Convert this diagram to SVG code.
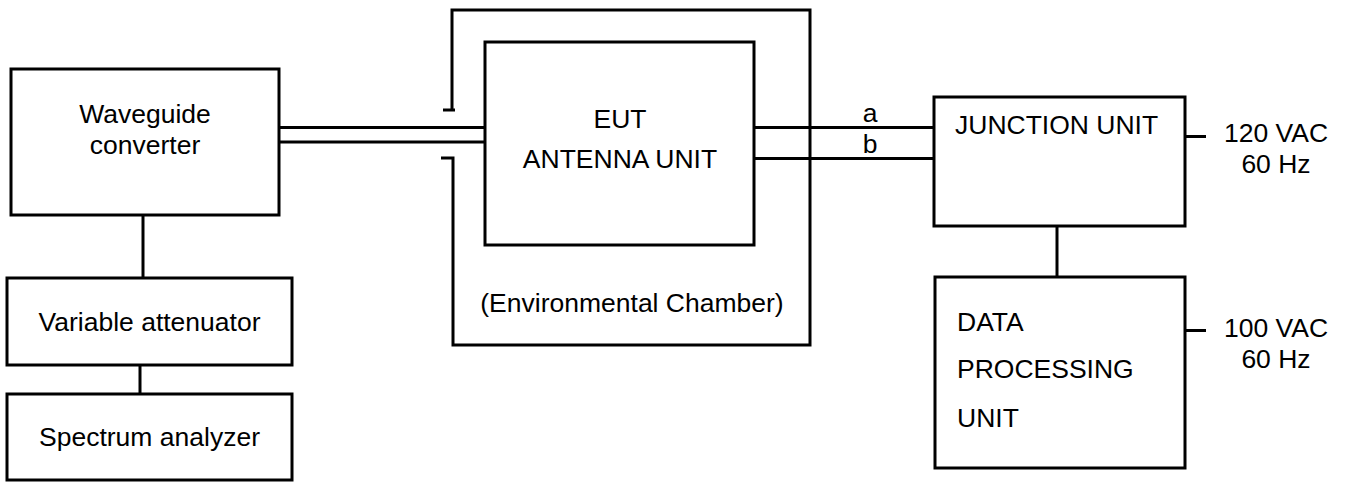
<svg xmlns="http://www.w3.org/2000/svg" width="1348" height="482" viewBox="0 0 1348 482">
<style>
.box{fill:none;stroke:#000;stroke-width:3}
.ln{fill:none;stroke:#000;stroke-width:3}
text{font-family:"Liberation Sans",Arial,sans-serif;font-size:26.5px;fill:#000}
.c{text-anchor:middle}
</style>
<rect width="1348" height="482" fill="#fff"/>
<g id="connectors">
<line class="ln" x1="279" y1="127.5" x2="485" y2="127.5"/>
<line class="ln" x1="279" y1="142" x2="485" y2="142"/>
<line class="ln" x1="143" y1="215" x2="143" y2="278"/>
<line class="ln" x1="140" y1="365" x2="140" y2="394"/>
<line class="ln" x1="754" y1="127.5" x2="934" y2="127.5"/>
<line class="ln" x1="754" y1="158.5" x2="934" y2="158.5"/>
<line class="ln" x1="1057" y1="226" x2="1057" y2="277"/>
<line class="ln" x1="1185" y1="136.5" x2="1206" y2="136.5"/>
<line class="ln" x1="1185" y1="330.5" x2="1206" y2="330.5"/>
<text class="c" x="870" y="122">a</text>
<text class="c" x="870" y="153">b</text>
</g>
<g id="chamber">
<path class="ln" d="M452,110 V10 H810 V345 H453 V158 H441"/>
<line class="ln" x1="443" y1="110" x2="455" y2="110"/>
<text class="c" x="632" y="312">(Environmental Chamber)</text>
</g>
<g id="waveguide">
<rect class="box" x="11" y="69" width="268" height="146"/>
<text class="c" x="145" y="123">Waveguide</text>
<text class="c" x="145" y="154">converter</text>
</g>
<g id="attenuator">
<rect class="box" x="7" y="278" width="285" height="87"/>
<text class="c" x="149.5" y="331">Variable attenuator</text>
</g>
<g id="spectrum">
<rect class="box" x="7" y="394" width="285" height="86"/>
<text class="c" x="149.5" y="446">Spectrum analyzer</text>
</g>
<g id="eut">
<rect class="box" x="485" y="42" width="269" height="203"/>
<text class="c" x="620" y="128">EUT</text>
<text class="c" x="620" y="168">ANTENNA UNIT</text>
</g>
<g id="junction">
<rect class="box" x="934" y="97" width="251" height="129"/>
<text x="955" y="134">JUNCTION UNIT</text>
</g>
<g id="dataproc">
<rect class="box" x="935" y="277" width="250" height="191"/>
<text x="957" y="331">DATA</text>
<text x="957" y="378">PROCESSING</text>
<text x="957" y="427">UNIT</text>
</g>
<g id="power1">
<text class="c" x="1276" y="142">120 VAC</text>
<text class="c" x="1276" y="173">60 Hz</text>
</g>
<g id="power2">
<text class="c" x="1276" y="337">100 VAC</text>
<text class="c" x="1276" y="368">60 Hz</text>
</g>
</svg>
